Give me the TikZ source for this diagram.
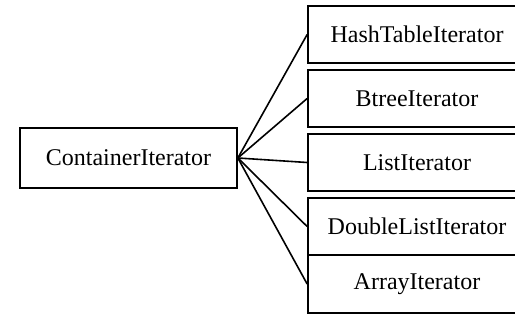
\documentclass[tikz,border=0pt]{standalone}
\usepackage{fontspec}
\setmainfont{Liberation Serif}
\begin{document}
\begin{tikzpicture}[x=1pt,y=-1pt,
  box/.style={draw, line width=1.7pt, rectangle, inner sep=0pt,
    font=\fontsize{24}{28}\selectfont},
  link/.style={line width=1.6pt}]
\useasboundingbox (0,0) rectangle (515,320);
\clip (0,0) rectangle (515,320);
% base iterator
\node[box, minimum width=217pt, minimum height=60pt] (ci) at (128.5,158) {ContainerIterator};
% concrete iterators (their right edges run off the page)
\node[box, minimum width=218pt, minimum height=57pt] (ht) at (417,34.5) {HashTableIterator};
\node[box, minimum width=218pt, minimum height=57pt] (bt) at (417,98.5) {BtreeIterator};
\node[box, minimum width=218pt, minimum height=57pt] (li) at (417,162.5) {ListIterator};
\node[box, minimum width=218pt, minimum height=57pt] (dl) at (417,226.5) {DoubleListIterator};
\node[box, minimum width=218pt, minimum height=58pt] (ar) at (417,284) {ArrayIterator};
% fan of connectors
\foreach \t in {ht,bt,li,dl,ar}
  \draw[link] (ci.east) -- (\t.west);
\end{tikzpicture}
\end{document}
